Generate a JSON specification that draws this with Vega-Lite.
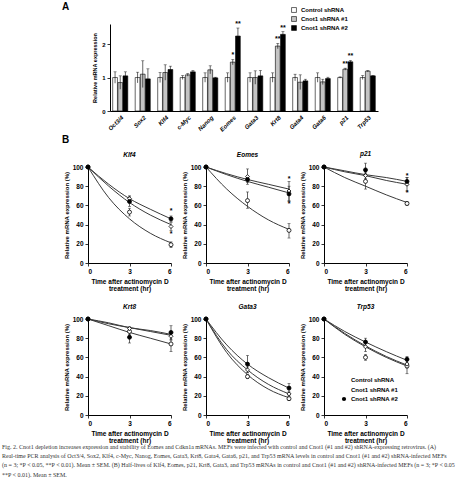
{
"$schema":"https://vega.github.io/schema/vega-lite/v6.json",
"background":"white",
"padding":{"left":2,"top":2,"right":0,"bottom":0},
"config":{
 "font":"Liberation Sans",
 "view":{"stroke":null},
 "axis":{"grid":false,"domainColor":"black","domainWidth":1,"tickColor":"black","tickWidth":0.8,"tickSize":3,"labelColor":"black","titleColor":"black","labelFont":"Liberation Sans","titleFont":"Liberation Sans","labelFontWeight":"bold","titleFontWeight":"bold","labelFontSize":6.5,"titleFontSize":6,"labelPadding":2},
 "title":{"font":"Liberation Sans","color":"black"},
 "legend":{"labelFont":"Liberation Sans","labelColor":"black"}
},
"title":{"text":[
"Fig. 2. Cnot1 depletion increases expression and stability of Eomes and Cdkn1a mRNAs. MEFs were infected with control and Cnot1 (#1 and #2) shRNA-expressing retrovirus. (A)",
"Real-time PCR analysis of Oct3/4, Sox2, Klf4, c-Myc, Nanog, Eomes, Gata3, Krt8, Gata4, Gata6, p21, and Trp53 mRNA levels in control and Cnot1 (#1 and #2) shRNA-infected MEFs",
"(n = 3; *P < 0.05, **P < 0.01). Mean ± SEM. (B) Half-lives of Klf4, Eomes, p21, Krt8, Gata3, and Trp53 mRNAs in control and Cnot1 (#1 and #2) shRNA-infected MEFs (n = 3; *P < 0.05",
"**P < 0.01). Mean ± SEM."],
"orient":"bottom","anchor":"start","frame":"group","dx":-86,"font":"Liberation Serif","fontSize":6.0,"fontWeight":"normal","color":"#333","lineHeight":9.2,"offset":0},
"datasets":{
"A":[
{"gene":"Oct3/4","grp":"Control shRNA","mean":1.0,"lo":0.83,"hi":1.17,"sig":""},
{"gene":"Oct3/4","grp":"Cnot1 shRNA #1","mean":0.85,"lo":0.65,"hi":1.05,"sig":""},
{"gene":"Oct3/4","grp":"Cnot1 shRNA #2","mean":1.05,"lo":0.93,"hi":1.17,"sig":""},
{"gene":"Sox2","grp":"Control shRNA","mean":1.0,"lo":0.84,"hi":1.16,"sig":""},
{"gene":"Sox2","grp":"Cnot1 shRNA #1","mean":1.1,"lo":0.7,"hi":1.5,"sig":""},
{"gene":"Sox2","grp":"Cnot1 shRNA #2","mean":0.96,"lo":0.66,"hi":1.26,"sig":""},
{"gene":"Klf4","grp":"Control shRNA","mean":1.0,"lo":0.85,"hi":1.15,"sig":""},
{"gene":"Klf4","grp":"Cnot1 shRNA #1","mean":1.15,"lo":0.92,"hi":1.38,"sig":""},
{"gene":"Klf4","grp":"Cnot1 shRNA #2","mean":1.24,"lo":1.14,"hi":1.34,"sig":""},
{"gene":"c-Myc","grp":"Control shRNA","mean":1.0,"lo":0.94,"hi":1.06,"sig":""},
{"gene":"c-Myc","grp":"Cnot1 shRNA #1","mean":1.08,"lo":1.04,"hi":1.12,"sig":""},
{"gene":"c-Myc","grp":"Cnot1 shRNA #2","mean":1.17,"lo":1.13,"hi":1.21,"sig":""},
{"gene":"Nanog","grp":"Control shRNA","mean":1.0,"lo":0.86,"hi":1.14,"sig":""},
{"gene":"Nanog","grp":"Cnot1 shRNA #1","mean":1.23,"lo":1.11,"hi":1.35,"sig":""},
{"gene":"Nanog","grp":"Cnot1 shRNA #2","mean":0.99,"lo":0.97,"hi":1.01,"sig":""},
{"gene":"Eomes","grp":"Control shRNA","mean":1.0,"lo":0.86,"hi":1.14,"sig":""},
{"gene":"Eomes","grp":"Cnot1 shRNA #1","mean":1.46,"lo":1.38,"hi":1.54,"sig":"*"},
{"gene":"Eomes","grp":"Cnot1 shRNA #2","mean":2.24,"lo":2.0,"hi":2.48,"sig":"**"},
{"gene":"Gata3","grp":"Control shRNA","mean":1.0,"lo":0.86,"hi":1.14,"sig":""},
{"gene":"Gata3","grp":"Cnot1 shRNA #1","mean":1.0,"lo":0.8,"hi":1.2,"sig":""},
{"gene":"Gata3","grp":"Cnot1 shRNA #2","mean":1.05,"lo":0.89,"hi":1.21,"sig":""},
{"gene":"Krt8","grp":"Control shRNA","mean":1.0,"lo":0.86,"hi":1.14,"sig":""},
{"gene":"Krt8","grp":"Cnot1 shRNA #1","mean":1.94,"lo":1.86,"hi":2.02,"sig":"**"},
{"gene":"Krt8","grp":"Cnot1 shRNA #2","mean":2.29,"lo":2.21,"hi":2.37,"sig":"**"},
{"gene":"Gata4","grp":"Control shRNA","mean":1.0,"lo":0.9,"hi":1.1,"sig":""},
{"gene":"Gata4","grp":"Cnot1 shRNA #1","mean":0.86,"lo":0.64,"hi":1.08,"sig":""},
{"gene":"Gata4","grp":"Cnot1 shRNA #2","mean":0.9,"lo":0.85,"hi":0.95,"sig":""},
{"gene":"Gata6","grp":"Control shRNA","mean":1.0,"lo":0.86,"hi":1.14,"sig":""},
{"gene":"Gata6","grp":"Cnot1 shRNA #1","mean":0.87,"lo":0.79,"hi":0.95,"sig":""},
{"gene":"Gata6","grp":"Cnot1 shRNA #2","mean":0.97,"lo":0.93,"hi":1.01,"sig":""},
{"gene":"p21","grp":"Control shRNA","mean":1.0,"lo":0.98,"hi":1.02,"sig":""},
{"gene":"p21","grp":"Cnot1 shRNA #1","mean":1.25,"lo":1.22,"hi":1.28,"sig":"**"},
{"gene":"p21","grp":"Cnot1 shRNA #2","mean":1.47,"lo":1.43,"hi":1.51,"sig":"**"},
{"gene":"Trp53","grp":"Control shRNA","mean":1.0,"lo":0.94,"hi":1.06,"sig":""},
{"gene":"Trp53","grp":"Cnot1 shRNA #1","mean":1.19,"lo":1.17,"hi":1.21,"sig":""},
{"gene":"Trp53","grp":"Cnot1 shRNA #2","mean":1.05,"lo":1.04,"hi":1.06,"sig":""}
],
"B":[
{"gene":"Klf4","kind":"p","grp":"Control shRNA","t":0,"v":100,"lo":100,"hi":100},
{"gene":"Klf4","kind":"p","grp":"Control shRNA","t":3,"v":53,"lo":49,"hi":57},
{"gene":"Klf4","kind":"p","grp":"Control shRNA","t":6,"v":19,"lo":16,"hi":22},
{"gene":"Klf4","kind":"p","grp":"Cnot1 shRNA #1","t":0,"v":100,"lo":100,"hi":100},
{"gene":"Klf4","kind":"p","grp":"Cnot1 shRNA #1","t":3,"v":67,"lo":64,"hi":70},
{"gene":"Klf4","kind":"p","grp":"Cnot1 shRNA #1","t":6,"v":38,"lo":34,"hi":42},
{"gene":"Klf4","kind":"p","grp":"Cnot1 shRNA #2","t":0,"v":100,"lo":100,"hi":100},
{"gene":"Klf4","kind":"p","grp":"Cnot1 shRNA #2","t":3,"v":64,"lo":59,"hi":69},
{"gene":"Klf4","kind":"p","grp":"Cnot1 shRNA #2","t":6,"v":46,"lo":43,"hi":49},
{"gene":"Eomes","kind":"p","grp":"Control shRNA","t":0,"v":100,"lo":100,"hi":100},
{"gene":"Eomes","kind":"p","grp":"Control shRNA","t":3,"v":65,"lo":57,"hi":74},
{"gene":"Eomes","kind":"p","grp":"Control shRNA","t":6,"v":34,"lo":26,"hi":41},
{"gene":"Eomes","kind":"p","grp":"Cnot1 shRNA #1","t":0,"v":100,"lo":100,"hi":100},
{"gene":"Eomes","kind":"p","grp":"Cnot1 shRNA #1","t":3,"v":90,"lo":82,"hi":98},
{"gene":"Eomes","kind":"p","grp":"Cnot1 shRNA #1","t":6,"v":75,"lo":65,"hi":85},
{"gene":"Eomes","kind":"p","grp":"Cnot1 shRNA #2","t":0,"v":100,"lo":100,"hi":100},
{"gene":"Eomes","kind":"p","grp":"Cnot1 shRNA #2","t":3,"v":87,"lo":84,"hi":90},
{"gene":"Eomes","kind":"p","grp":"Cnot1 shRNA #2","t":6,"v":72,"lo":64,"hi":80},
{"gene":"p21","kind":"p","grp":"Control shRNA","t":0,"v":100,"lo":100,"hi":100},
{"gene":"p21","kind":"p","grp":"Control shRNA","t":3,"v":85,"lo":77,"hi":93},
{"gene":"p21","kind":"p","grp":"Control shRNA","t":6,"v":62,"lo":60,"hi":64},
{"gene":"p21","kind":"p","grp":"Cnot1 shRNA #1","t":0,"v":100,"lo":100,"hi":100},
{"gene":"p21","kind":"p","grp":"Cnot1 shRNA #1","t":3,"v":91,"lo":88,"hi":94},
{"gene":"p21","kind":"p","grp":"Cnot1 shRNA #1","t":6,"v":82,"lo":75,"hi":89},
{"gene":"p21","kind":"p","grp":"Cnot1 shRNA #2","t":0,"v":100,"lo":100,"hi":100},
{"gene":"p21","kind":"p","grp":"Cnot1 shRNA #2","t":3,"v":97,"lo":90,"hi":104},
{"gene":"p21","kind":"p","grp":"Cnot1 shRNA #2","t":6,"v":85,"lo":81,"hi":89},
{"gene":"Krt8","kind":"p","grp":"Control shRNA","t":0,"v":100,"lo":100,"hi":100},
{"gene":"Krt8","kind":"p","grp":"Control shRNA","t":3,"v":87,"lo":84,"hi":90},
{"gene":"Krt8","kind":"p","grp":"Control shRNA","t":6,"v":74,"lo":66,"hi":82},
{"gene":"Krt8","kind":"p","grp":"Cnot1 shRNA #1","t":0,"v":100,"lo":100,"hi":100},
{"gene":"Krt8","kind":"p","grp":"Cnot1 shRNA #1","t":3,"v":90,"lo":88,"hi":92},
{"gene":"Krt8","kind":"p","grp":"Cnot1 shRNA #1","t":6,"v":82,"lo":78,"hi":86},
{"gene":"Krt8","kind":"p","grp":"Cnot1 shRNA #2","t":0,"v":100,"lo":100,"hi":100},
{"gene":"Krt8","kind":"p","grp":"Cnot1 shRNA #2","t":3,"v":81,"lo":75,"hi":87},
{"gene":"Krt8","kind":"p","grp":"Cnot1 shRNA #2","t":6,"v":86,"lo":79,"hi":93},
{"gene":"Gata3","kind":"p","grp":"Control shRNA","t":0,"v":100,"lo":100,"hi":100},
{"gene":"Gata3","kind":"p","grp":"Control shRNA","t":3,"v":40,"lo":38,"hi":42},
{"gene":"Gata3","kind":"p","grp":"Control shRNA","t":6,"v":17,"lo":15,"hi":19},
{"gene":"Gata3","kind":"p","grp":"Cnot1 shRNA #1","t":0,"v":100,"lo":100,"hi":100},
{"gene":"Gata3","kind":"p","grp":"Cnot1 shRNA #1","t":3,"v":47,"lo":44,"hi":50},
{"gene":"Gata3","kind":"p","grp":"Cnot1 shRNA #1","t":6,"v":22,"lo":20,"hi":24},
{"gene":"Gata3","kind":"p","grp":"Cnot1 shRNA #2","t":0,"v":100,"lo":100,"hi":100},
{"gene":"Gata3","kind":"p","grp":"Cnot1 shRNA #2","t":3,"v":53,"lo":44,"hi":62},
{"gene":"Gata3","kind":"p","grp":"Cnot1 shRNA #2","t":6,"v":28,"lo":23,"hi":33},
{"gene":"Trp53","kind":"p","grp":"Control shRNA","t":0,"v":100,"lo":100,"hi":100},
{"gene":"Trp53","kind":"p","grp":"Control shRNA","t":3,"v":60,"lo":57,"hi":63},
{"gene":"Trp53","kind":"p","grp":"Control shRNA","t":6,"v":51,"lo":43,"hi":59},
{"gene":"Trp53","kind":"p","grp":"Cnot1 shRNA #1","t":0,"v":100,"lo":100,"hi":100},
{"gene":"Trp53","kind":"p","grp":"Cnot1 shRNA #1","t":3,"v":71,"lo":66,"hi":76},
{"gene":"Trp53","kind":"p","grp":"Cnot1 shRNA #1","t":6,"v":53,"lo":49,"hi":57},
{"gene":"Trp53","kind":"p","grp":"Cnot1 shRNA #2","t":0,"v":100,"lo":100,"hi":100},
{"gene":"Trp53","kind":"p","grp":"Cnot1 shRNA #2","t":3,"v":76,"lo":72,"hi":80},
{"gene":"Trp53","kind":"p","grp":"Cnot1 shRNA #2","t":6,"v":58,"lo":55,"hi":61},
{"gene":"Klf4","kind":"c","grp":"Control shRNA","t":0,"v":100},{"gene":"Klf4","kind":"c","grp":"Control shRNA","t":1.5,"v":68},{"gene":"Klf4","kind":"c","grp":"Control shRNA","t":3,"v":46},{"gene":"Klf4","kind":"c","grp":"Control shRNA","t":4.5,"v":31},{"gene":"Klf4","kind":"c","grp":"Control shRNA","t":6,"v":21},
{"gene":"Klf4","kind":"c","grp":"Cnot1 shRNA #1","t":0,"v":100},{"gene":"Klf4","kind":"c","grp":"Cnot1 shRNA #1","t":1.5,"v":80},{"gene":"Klf4","kind":"c","grp":"Cnot1 shRNA #1","t":3,"v":63},{"gene":"Klf4","kind":"c","grp":"Cnot1 shRNA #1","t":4.5,"v":50},{"gene":"Klf4","kind":"c","grp":"Cnot1 shRNA #1","t":6,"v":40},
{"gene":"Klf4","kind":"c","grp":"Cnot1 shRNA #2","t":0,"v":100},{"gene":"Klf4","kind":"c","grp":"Cnot1 shRNA #2","t":1.5,"v":82},{"gene":"Klf4","kind":"c","grp":"Cnot1 shRNA #2","t":3,"v":67},{"gene":"Klf4","kind":"c","grp":"Cnot1 shRNA #2","t":4.5,"v":56},{"gene":"Klf4","kind":"c","grp":"Cnot1 shRNA #2","t":6,"v":46},
{"gene":"Eomes","kind":"c","grp":"Control shRNA","t":0,"v":100},{"gene":"Eomes","kind":"c","grp":"Control shRNA","t":1.5,"v":77},{"gene":"Eomes","kind":"c","grp":"Control shRNA","t":3,"v":59},{"gene":"Eomes","kind":"c","grp":"Control shRNA","t":4.5,"v":45},{"gene":"Eomes","kind":"c","grp":"Control shRNA","t":6,"v":35},
{"gene":"Eomes","kind":"c","grp":"Cnot1 shRNA #1","t":0,"v":100},{"gene":"Eomes","kind":"c","grp":"Cnot1 shRNA #1","t":1.5,"v":93},{"gene":"Eomes","kind":"c","grp":"Cnot1 shRNA #1","t":3,"v":87},{"gene":"Eomes","kind":"c","grp":"Cnot1 shRNA #1","t":4.5,"v":82},{"gene":"Eomes","kind":"c","grp":"Cnot1 shRNA #1","t":6,"v":77},
{"gene":"Eomes","kind":"c","grp":"Cnot1 shRNA #2","t":0,"v":100},{"gene":"Eomes","kind":"c","grp":"Cnot1 shRNA #2","t":1.5,"v":92},{"gene":"Eomes","kind":"c","grp":"Cnot1 shRNA #2","t":3,"v":85},{"gene":"Eomes","kind":"c","grp":"Cnot1 shRNA #2","t":4.5,"v":79},{"gene":"Eomes","kind":"c","grp":"Cnot1 shRNA #2","t":6,"v":73},
{"gene":"p21","kind":"c","grp":"Control shRNA","t":0,"v":100},{"gene":"p21","kind":"c","grp":"Control shRNA","t":1.5,"v":89},{"gene":"p21","kind":"c","grp":"Control shRNA","t":3,"v":80},{"gene":"p21","kind":"c","grp":"Control shRNA","t":4.5,"v":71},{"gene":"p21","kind":"c","grp":"Control shRNA","t":6,"v":63},
{"gene":"p21","kind":"c","grp":"Cnot1 shRNA #1","t":0,"v":100},{"gene":"p21","kind":"c","grp":"Cnot1 shRNA #1","t":1.5,"v":95},{"gene":"p21","kind":"c","grp":"Cnot1 shRNA #1","t":3,"v":91},{"gene":"p21","kind":"c","grp":"Cnot1 shRNA #1","t":4.5,"v":86},{"gene":"p21","kind":"c","grp":"Cnot1 shRNA #1","t":6,"v":82},
{"gene":"p21","kind":"c","grp":"Cnot1 shRNA #2","t":0,"v":100},{"gene":"p21","kind":"c","grp":"Cnot1 shRNA #2","t":1.5,"v":96},{"gene":"p21","kind":"c","grp":"Cnot1 shRNA #2","t":3,"v":92},{"gene":"p21","kind":"c","grp":"Cnot1 shRNA #2","t":4.5,"v":89},{"gene":"p21","kind":"c","grp":"Cnot1 shRNA #2","t":6,"v":85},
{"gene":"Krt8","kind":"c","grp":"Control shRNA","t":0,"v":100},{"gene":"Krt8","kind":"c","grp":"Control shRNA","t":1.5,"v":93},{"gene":"Krt8","kind":"c","grp":"Control shRNA","t":3,"v":86},{"gene":"Krt8","kind":"c","grp":"Control shRNA","t":4.5,"v":80},{"gene":"Krt8","kind":"c","grp":"Control shRNA","t":6,"v":74},
{"gene":"Krt8","kind":"c","grp":"Cnot1 shRNA #1","t":0,"v":100},{"gene":"Krt8","kind":"c","grp":"Cnot1 shRNA #1","t":1.5,"v":95},{"gene":"Krt8","kind":"c","grp":"Cnot1 shRNA #1","t":3,"v":91},{"gene":"Krt8","kind":"c","grp":"Cnot1 shRNA #1","t":4.5,"v":87},{"gene":"Krt8","kind":"c","grp":"Cnot1 shRNA #1","t":6,"v":83},
{"gene":"Krt8","kind":"c","grp":"Cnot1 shRNA #2","t":0,"v":100},{"gene":"Krt8","kind":"c","grp":"Cnot1 shRNA #2","t":1.5,"v":96},{"gene":"Krt8","kind":"c","grp":"Cnot1 shRNA #2","t":3,"v":91},{"gene":"Krt8","kind":"c","grp":"Cnot1 shRNA #2","t":4.5,"v":88},{"gene":"Krt8","kind":"c","grp":"Cnot1 shRNA #2","t":6,"v":84},
{"gene":"Gata3","kind":"c","grp":"Control shRNA","t":0,"v":100},{"gene":"Gata3","kind":"c","grp":"Control shRNA","t":1.5,"v":65},{"gene":"Gata3","kind":"c","grp":"Control shRNA","t":3,"v":42},{"gene":"Gata3","kind":"c","grp":"Control shRNA","t":4.5,"v":27},{"gene":"Gata3","kind":"c","grp":"Control shRNA","t":6,"v":18},
{"gene":"Gata3","kind":"c","grp":"Cnot1 shRNA #1","t":0,"v":100},{"gene":"Gata3","kind":"c","grp":"Cnot1 shRNA #1","t":1.5,"v":68},{"gene":"Gata3","kind":"c","grp":"Cnot1 shRNA #1","t":3,"v":47},{"gene":"Gata3","kind":"c","grp":"Cnot1 shRNA #1","t":4.5,"v":32},{"gene":"Gata3","kind":"c","grp":"Cnot1 shRNA #1","t":6,"v":22},
{"gene":"Gata3","kind":"c","grp":"Cnot1 shRNA #2","t":0,"v":100},{"gene":"Gata3","kind":"c","grp":"Cnot1 shRNA #2","t":1.5,"v":73},{"gene":"Gata3","kind":"c","grp":"Cnot1 shRNA #2","t":3,"v":53},{"gene":"Gata3","kind":"c","grp":"Cnot1 shRNA #2","t":4.5,"v":39},{"gene":"Gata3","kind":"c","grp":"Cnot1 shRNA #2","t":6,"v":28},
{"gene":"Trp53","kind":"c","grp":"Control shRNA","t":0,"v":100},{"gene":"Trp53","kind":"c","grp":"Control shRNA","t":1.5,"v":84},{"gene":"Trp53","kind":"c","grp":"Control shRNA","t":3,"v":71},{"gene":"Trp53","kind":"c","grp":"Control shRNA","t":4.5,"v":60},{"gene":"Trp53","kind":"c","grp":"Control shRNA","t":6,"v":51},
{"gene":"Trp53","kind":"c","grp":"Cnot1 shRNA #1","t":0,"v":100},{"gene":"Trp53","kind":"c","grp":"Cnot1 shRNA #1","t":1.5,"v":85},{"gene":"Trp53","kind":"c","grp":"Cnot1 shRNA #1","t":3,"v":72},{"gene":"Trp53","kind":"c","grp":"Cnot1 shRNA #1","t":4.5,"v":61},{"gene":"Trp53","kind":"c","grp":"Cnot1 shRNA #1","t":6,"v":52},
{"gene":"Trp53","kind":"c","grp":"Cnot1 shRNA #2","t":0,"v":100},{"gene":"Trp53","kind":"c","grp":"Cnot1 shRNA #2","t":1.5,"v":87},{"gene":"Trp53","kind":"c","grp":"Cnot1 shRNA #2","t":3,"v":76},{"gene":"Trp53","kind":"c","grp":"Cnot1 shRNA #2","t":4.5,"v":66},{"gene":"Trp53","kind":"c","grp":"Cnot1 shRNA #2","t":6,"v":57},
{"gene":"Klf4","kind":"s","t":6,"v":54},{"gene":"Klf4","kind":"s","t":6,"v":30},
{"gene":"Eomes","kind":"s","t":6,"v":88},{"gene":"Eomes","kind":"s","t":6,"v":61},
{"gene":"p21","kind":"s","t":6,"v":91},{"gene":"p21","kind":"s","t":6,"v":73}
]},
"resolve":{"scale":{"fill":"independent","shape":"independent"},"legend":{"fill":"independent","shape":"independent"}},
"spacing":2,
"vconcat":[
{"width":290,"height":87,"data":{"name":"A"},
 "title":{"text":"A","anchor":"start","frame":"group","dx":-26,"fontSize":10,"fontWeight":"bold","offset":-5},
 "encoding":{
  "x":{"field":"gene","type":"nominal","sort":["Oct3/4","Sox2","Klf4","c-Myc","Nanog","Eomes","Gata3","Krt8","Gata4","Gata6","p21","Trp53"],"scale":{"range":[22,290],"paddingInner":0.33,"paddingOuter":0.12},"axis":{"title":null,"labelAngle":-45,"labelFontStyle":"italic","labelFontSize":6,"ticks":false,"labelPadding":3}},
  "xOffset":{"field":"grp","type":"nominal","sort":["Control shRNA","Cnot1 shRNA #1","Cnot1 shRNA #2"],"scale":{"paddingInner":0.08}}
 },
 "layer":[
  {"mark":{"type":"bar","stroke":"black","strokeWidth":0.6},
   "encoding":{"y":{"field":"mean","type":"quantitative","scale":{"domain":[0,2.5]},"axis":{"values":[0,0.5,1,1.5,2,2.5],"format":"~g","offset":-22,"title":"Relative mRNA expression","titleFontSize":5.5,"titlePadding":4,"labelFontSize":6}},
    "fill":{"field":"grp","type":"nominal","sort":["Control shRNA","Cnot1 shRNA #1","Cnot1 shRNA #2"],"scale":{"domain":["Control shRNA","Cnot1 shRNA #1","Cnot1 shRNA #2"],"range":["white","#c4c4c4","black"]},
     "legend":{"orient":"none","legendX":203,"legendY":-17,"title":null,"symbolType":"square","symbolSize":24,"symbolStrokeColor":"black","symbolStrokeWidth":0.6,"labelFontSize":6,"labelFontWeight":"bold","rowPadding":1}}}},
  {"mark":{"type":"rule","strokeWidth":0.6,"color":"black"},"encoding":{"y":{"field":"lo","type":"quantitative"},"y2":{"field":"hi"}}},
  {"mark":{"type":"tick","orient":"horizontal","size":3,"thickness":0.6,"color":"black"},"encoding":{"y":{"field":"hi","type":"quantitative"}}},
  {"mark":{"type":"text","dy":-4,"fontSize":7,"fontWeight":"bold","baseline":"middle"},"encoding":{"y":{"field":"hi","type":"quantitative"},"text":{"field":"sig"}}}
 ]
},
{"title":{"text":"B","anchor":"start","frame":"group","dx":-26,"fontSize":10,"fontWeight":"bold","offset":6},
 "resolve":{"scale":{"fill":"independent","shape":"independent"},"legend":{"fill":"independent","shape":"independent"}},
 "spacing":11,
 "vconcat":[
 {"hconcat":[
  {"width":83,"height":96,"title":{"text":"Klf4","fontSize":6.5,"fontStyle":"italic","fontWeight":"bold","offset":5},"data":{"name":"B"},"transform":[{"filter":"datum.gene==='Klf4'"}],
   "encoding":{"x":{"field":"t","type":"quantitative","scale":{"domain":[0,6],"nice":false},"axis":{"values":[0,3,6],"title":["Time after actinomycin D","treatment (hr)"],"titleFontSize":6.5,"titleLineHeight":7,"titlePadding":4}},"y":{"field":"v","type":"quantitative","scale":{"domain":[0,100]},"axis":{"values":[0,20,40,60,80,100],"title":"Relative mRNA expression (%)","titlePadding":3}}},
   "layer":[
    {"transform":[{"filter":"datum.kind==='c'"}],"mark":{"type":"line","interpolate":"monotone","color":"#3a3a3a","strokeWidth":1},"encoding":{"detail":{"field":"grp","type":"nominal"}}},
    {"transform":[{"filter":"datum.kind==='p'"}],"mark":{"type":"rule","color":"#222","strokeWidth":0.7},"encoding":{"y":{"field":"lo","type":"quantitative"},"y2":{"field":"hi"}}},
    {"transform":[{"filter":"datum.kind==='p'"}],"mark":{"type":"tick","orient":"horizontal","color":"#222","size":3,"thickness":0.7},"encoding":{"y":{"field":"hi","type":"quantitative"}}},
    {"transform":[{"filter":"datum.kind==='p'"}],"mark":{"type":"tick","orient":"horizontal","color":"#222","size":3,"thickness":0.7},"encoding":{"y":{"field":"lo","type":"quantitative"}}},
    {"transform":[{"filter":"datum.kind==='p'"}],"mark":{"type":"point","filled":true,"size":16,"stroke":"black","strokeWidth":0.8,"opacity":1},"encoding":{"shape":{"field":"grp","type":"nominal","scale":{"domain":["Control shRNA","Cnot1 shRNA #1","Cnot1 shRNA #2"],"range":["circle","diamond","circle"]},"legend":null},"fill":{"field":"grp","type":"nominal","scale":{"domain":["Control shRNA","Cnot1 shRNA #1","Cnot1 shRNA #2"],"range":["white","white","black"]},"legend":null}}},
    {"transform":[{"filter":"datum.kind==='s'"}],"mark":{"type":"text","fontSize":7,"fontWeight":"bold","baseline":"middle"},"encoding":{"text":{"value":"*"}}}
   ]},
  {"width":83,"height":96,"title":{"text":"Eomes","fontSize":6.5,"fontStyle":"italic","fontWeight":"bold","offset":5},"data":{"name":"B"},"transform":[{"filter":"datum.gene==='Eomes'"}],
   "encoding":{"x":{"field":"t","type":"quantitative","scale":{"domain":[0,6],"nice":false},"axis":{"values":[0,3,6],"title":["Time after actinomycin D","treatment (hr)"],"titleFontSize":6.5,"titleLineHeight":7,"titlePadding":4}},"y":{"field":"v","type":"quantitative","scale":{"domain":[0,100]},"axis":{"values":[0,20,40,60,80,100],"title":"Relative mRNA expression (%)","titlePadding":3}}},
   "layer":[
    {"transform":[{"filter":"datum.kind==='c'"}],"mark":{"type":"line","interpolate":"monotone","color":"#3a3a3a","strokeWidth":1},"encoding":{"detail":{"field":"grp","type":"nominal"}}},
    {"transform":[{"filter":"datum.kind==='p'"}],"mark":{"type":"rule","color":"#222","strokeWidth":0.7},"encoding":{"y":{"field":"lo","type":"quantitative"},"y2":{"field":"hi"}}},
    {"transform":[{"filter":"datum.kind==='p'"}],"mark":{"type":"tick","orient":"horizontal","color":"#222","size":3,"thickness":0.7},"encoding":{"y":{"field":"hi","type":"quantitative"}}},
    {"transform":[{"filter":"datum.kind==='p'"}],"mark":{"type":"tick","orient":"horizontal","color":"#222","size":3,"thickness":0.7},"encoding":{"y":{"field":"lo","type":"quantitative"}}},
    {"transform":[{"filter":"datum.kind==='p'"}],"mark":{"type":"point","filled":true,"size":16,"stroke":"black","strokeWidth":0.8,"opacity":1},"encoding":{"shape":{"field":"grp","type":"nominal","scale":{"domain":["Control shRNA","Cnot1 shRNA #1","Cnot1 shRNA #2"],"range":["circle","diamond","circle"]},"legend":null},"fill":{"field":"grp","type":"nominal","scale":{"domain":["Control shRNA","Cnot1 shRNA #1","Cnot1 shRNA #2"],"range":["white","white","black"]},"legend":null}}},
    {"transform":[{"filter":"datum.kind==='s'"}],"mark":{"type":"text","fontSize":7,"fontWeight":"bold","baseline":"middle"},"encoding":{"text":{"value":"*"}}}
   ]},
  {"width":83,"height":96,"title":{"text":"p21","fontSize":6.5,"fontStyle":"italic","fontWeight":"bold","offset":5},"data":{"name":"B"},"transform":[{"filter":"datum.gene==='p21'"}],
   "encoding":{"x":{"field":"t","type":"quantitative","scale":{"domain":[0,6],"nice":false},"axis":{"values":[0,3,6],"title":["Time after actinomycin D","treatment (hr)"],"titleFontSize":6.5,"titleLineHeight":7,"titlePadding":4}},"y":{"field":"v","type":"quantitative","scale":{"domain":[0,100]},"axis":{"values":[0,20,40,60,80,100],"title":"Relative mRNA expression (%)","titlePadding":3}}},
   "layer":[
    {"transform":[{"filter":"datum.kind==='c'"}],"mark":{"type":"line","interpolate":"monotone","color":"#3a3a3a","strokeWidth":1},"encoding":{"detail":{"field":"grp","type":"nominal"}}},
    {"transform":[{"filter":"datum.kind==='p'"}],"mark":{"type":"rule","color":"#222","strokeWidth":0.7},"encoding":{"y":{"field":"lo","type":"quantitative"},"y2":{"field":"hi"}}},
    {"transform":[{"filter":"datum.kind==='p'"}],"mark":{"type":"tick","orient":"horizontal","color":"#222","size":3,"thickness":0.7},"encoding":{"y":{"field":"hi","type":"quantitative"}}},
    {"transform":[{"filter":"datum.kind==='p'"}],"mark":{"type":"tick","orient":"horizontal","color":"#222","size":3,"thickness":0.7},"encoding":{"y":{"field":"lo","type":"quantitative"}}},
    {"transform":[{"filter":"datum.kind==='p'"}],"mark":{"type":"point","filled":true,"size":16,"stroke":"black","strokeWidth":0.8,"opacity":1},"encoding":{"shape":{"field":"grp","type":"nominal","scale":{"domain":["Control shRNA","Cnot1 shRNA #1","Cnot1 shRNA #2"],"range":["circle","diamond","circle"]},"legend":null},"fill":{"field":"grp","type":"nominal","scale":{"domain":["Control shRNA","Cnot1 shRNA #1","Cnot1 shRNA #2"],"range":["white","white","black"]},"legend":null}}},
    {"transform":[{"filter":"datum.kind==='s'"}],"mark":{"type":"text","fontSize":7,"fontWeight":"bold","baseline":"middle"},"encoding":{"text":{"value":"*"}}}
   ]}
  ],"spacing":35,"bounds":"flush","resolve":{"scale":{"fill":"independent","shape":"independent"},"legend":{"fill":"independent","shape":"independent"}}},
 {"hconcat":[
  {"width":83,"height":96,"title":{"text":"Krt8","fontSize":6.5,"fontStyle":"italic","fontWeight":"bold","offset":5},"data":{"name":"B"},"transform":[{"filter":"datum.gene==='Krt8'"}],
   "encoding":{"x":{"field":"t","type":"quantitative","scale":{"domain":[0,6],"nice":false},"axis":{"values":[0,3,6],"title":["Time after actinomycin D","treatment (hr)"],"titleFontSize":6.5,"titleLineHeight":7,"titlePadding":4}},"y":{"field":"v","type":"quantitative","scale":{"domain":[0,100]},"axis":{"values":[0,20,40,60,80,100],"title":"Relative mRNA expression (%)","titlePadding":3}}},
   "layer":[
    {"transform":[{"filter":"datum.kind==='c'"}],"mark":{"type":"line","interpolate":"monotone","color":"#3a3a3a","strokeWidth":1},"encoding":{"detail":{"field":"grp","type":"nominal"}}},
    {"transform":[{"filter":"datum.kind==='p'"}],"mark":{"type":"rule","color":"#222","strokeWidth":0.7},"encoding":{"y":{"field":"lo","type":"quantitative"},"y2":{"field":"hi"}}},
    {"transform":[{"filter":"datum.kind==='p'"}],"mark":{"type":"tick","orient":"horizontal","color":"#222","size":3,"thickness":0.7},"encoding":{"y":{"field":"hi","type":"quantitative"}}},
    {"transform":[{"filter":"datum.kind==='p'"}],"mark":{"type":"tick","orient":"horizontal","color":"#222","size":3,"thickness":0.7},"encoding":{"y":{"field":"lo","type":"quantitative"}}},
    {"transform":[{"filter":"datum.kind==='p'"}],"mark":{"type":"point","filled":true,"size":16,"stroke":"black","strokeWidth":0.8,"opacity":1},"encoding":{"shape":{"field":"grp","type":"nominal","scale":{"domain":["Control shRNA","Cnot1 shRNA #1","Cnot1 shRNA #2"],"range":["circle","diamond","circle"]},"legend":null},"fill":{"field":"grp","type":"nominal","scale":{"domain":["Control shRNA","Cnot1 shRNA #1","Cnot1 shRNA #2"],"range":["white","white","black"]},"legend":null}}}
   ]},
  {"width":83,"height":96,"title":{"text":"Gata3","fontSize":6.5,"fontStyle":"italic","fontWeight":"bold","offset":5},"data":{"name":"B"},"transform":[{"filter":"datum.gene==='Gata3'"}],
   "encoding":{"x":{"field":"t","type":"quantitative","scale":{"domain":[0,6],"nice":false},"axis":{"values":[0,3,6],"title":["Time after actinomycin D","treatment (hr)"],"titleFontSize":6.5,"titleLineHeight":7,"titlePadding":4}},"y":{"field":"v","type":"quantitative","scale":{"domain":[0,100]},"axis":{"values":[0,20,40,60,80,100],"title":"Relative mRNA expression (%)","titlePadding":3}}},
   "layer":[
    {"transform":[{"filter":"datum.kind==='c'"}],"mark":{"type":"line","interpolate":"monotone","color":"#3a3a3a","strokeWidth":1},"encoding":{"detail":{"field":"grp","type":"nominal"}}},
    {"transform":[{"filter":"datum.kind==='p'"}],"mark":{"type":"rule","color":"#222","strokeWidth":0.7},"encoding":{"y":{"field":"lo","type":"quantitative"},"y2":{"field":"hi"}}},
    {"transform":[{"filter":"datum.kind==='p'"}],"mark":{"type":"tick","orient":"horizontal","color":"#222","size":3,"thickness":0.7},"encoding":{"y":{"field":"hi","type":"quantitative"}}},
    {"transform":[{"filter":"datum.kind==='p'"}],"mark":{"type":"tick","orient":"horizontal","color":"#222","size":3,"thickness":0.7},"encoding":{"y":{"field":"lo","type":"quantitative"}}},
    {"transform":[{"filter":"datum.kind==='p'"}],"mark":{"type":"point","filled":true,"size":16,"stroke":"black","strokeWidth":0.8,"opacity":1},"encoding":{"shape":{"field":"grp","type":"nominal","scale":{"domain":["Control shRNA","Cnot1 shRNA #1","Cnot1 shRNA #2"],"range":["circle","diamond","circle"]},"legend":null},"fill":{"field":"grp","type":"nominal","scale":{"domain":["Control shRNA","Cnot1 shRNA #1","Cnot1 shRNA #2"],"range":["white","white","black"]},"legend":null}}}
   ]},
  {"width":83,"height":96,"title":{"text":"Trp53","fontSize":6.5,"fontStyle":"italic","fontWeight":"bold","offset":5},"data":{"name":"B"},"transform":[{"filter":"datum.gene==='Trp53'"}],
   "encoding":{"x":{"field":"t","type":"quantitative","scale":{"domain":[0,6],"nice":false},"axis":{"values":[0,3,6],"title":["Time after actinomycin D","treatment (hr)"],"titleFontSize":6.5,"titleLineHeight":7,"titlePadding":4}},"y":{"field":"v","type":"quantitative","scale":{"domain":[0,100]},"axis":{"values":[0,20,40,60,80,100],"title":"Relative mRNA expression (%)","titlePadding":3}}},
   "layer":[
    {"transform":[{"filter":"datum.kind==='c'"}],"mark":{"type":"line","interpolate":"monotone","color":"#3a3a3a","strokeWidth":1},"encoding":{"detail":{"field":"grp","type":"nominal"}}},
    {"transform":[{"filter":"datum.kind==='p'"}],"mark":{"type":"rule","color":"#222","strokeWidth":0.7},"encoding":{"y":{"field":"lo","type":"quantitative"},"y2":{"field":"hi"}}},
    {"transform":[{"filter":"datum.kind==='p'"}],"mark":{"type":"tick","orient":"horizontal","color":"#222","size":3,"thickness":0.7},"encoding":{"y":{"field":"hi","type":"quantitative"}}},
    {"transform":[{"filter":"datum.kind==='p'"}],"mark":{"type":"tick","orient":"horizontal","color":"#222","size":3,"thickness":0.7},"encoding":{"y":{"field":"lo","type":"quantitative"}}},
    {"transform":[{"filter":"datum.kind==='p'"}],"mark":{"type":"point","filled":true,"size":16,"stroke":"black","strokeWidth":0.8,"opacity":1},"encoding":{"shape":{"field":"grp","type":"nominal","scale":{"domain":["Control shRNA","Cnot1 shRNA #1","Cnot1 shRNA #2"],"range":["circle","diamond","circle"]},"legend":{"orient":"none","legendX":17,"legendY":58,"title":null,"labelFontSize":6,"labelFontWeight":"bold","symbolSize":18,"symbolStrokeWidth":0.8,"symbolStrokeColor":"black","rowPadding":1.5}},"fill":{"field":"grp","type":"nominal","scale":{"domain":["Control shRNA","Cnot1 shRNA #1","Cnot1 shRNA #2"],"range":["white","white","black"]},"legend":{"orient":"none","legendX":17,"legendY":58,"title":null,"labelFontSize":6,"labelFontWeight":"bold","symbolSize":18,"symbolStrokeWidth":0.8,"symbolStrokeColor":"black","rowPadding":1.5}}}}
   ]}
  ],"spacing":35,"bounds":"flush","resolve":{"scale":{"fill":"independent","shape":"independent"},"legend":{"fill":"independent","shape":"independent"}}}
 ]}
]
}
